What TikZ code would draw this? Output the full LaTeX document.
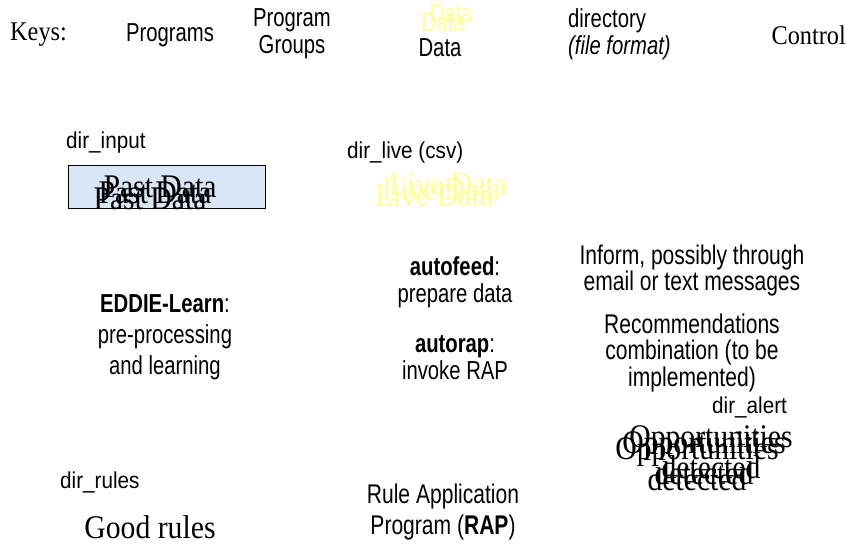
\documentclass[tikz,border=0pt]{standalone}
\usepackage{fontspec}
\setmainfont[FakeStretch=0.9]{Liberation Serif}
\setsansfont[FakeStretch=0.78]{Liberation Sans}
\newfontfamily\dirfont[FakeStretch=0.9]{Liberation Sans}
\definecolor{pale}{HTML}{FFFF99}
\definecolor{boxblue}{HTML}{D8E6F6}
\begin{document}
\begin{tikzpicture}[x=1pt,y=1pt,
  sanslbl/.style={font=\sffamily\fontsize{26}{27}\selectfont,align=center,inner sep=0pt},
  dirlbl/.style={font=\dirfont\fontsize{23}{22}\selectfont,anchor=west,inner sep=0pt},
  serlbl/.style={font=\rmfamily\fontsize{33}{25}\selectfont,align=center,inner sep=0pt},
  keylbl/.style={font=\rmfamily\fontsize{27}{26}\selectfont,inner sep=0pt},
  ghost/.style={serlbl,text=pale}]
\useasboundingbox (0,0) rectangle (847,-547);
% keys row
\node[keylbl,anchor=west] (keys) at (10,-35) {Keys:};
\node[sanslbl] (kprog) at (170,-35) {Programs};
\node[sanslbl] (kgroup) at (292,-34) {Program\\Groups};
\node[sanslbl,text=pale] (kdata1) at (451,-14) {Data};
\node[sanslbl,text=pale] (kdata2) at (443,-23) {Data};
\node[sanslbl] (kdata) at (440,-48) {Data};
\node[font=\sffamily\fontsize{26}{27}\selectfont,align=left,anchor=west,inner sep=0pt] (kdir) at (568,-34) {directory\\\textit{(file format)}};
\node[keylbl,anchor=east] (kctrl) at (846,-35) {Control};
% past data
\node[dirlbl] (dirin) at (66,-143) {dir\_input};
\draw[fill=boxblue,draw=black,line width=1pt] (68,-165) rectangle (265,-208);
\node[serlbl] (past1) at (160,-187) {Past Data};
\node[serlbl] (past2) at (155,-193) {Past Data};
\node[serlbl] (past3) at (150,-199) {Past Data};
% live data
\node[dirlbl] (dirlive) at (347,-153) {dir\_live (csv)};
\node[ghost] (live1) at (448,-185) {Live Data};
\node[ghost] (live2) at (441,-190) {Live Data};
\node[ghost] (live3) at (434,-196) {Live Data};
% programs
\node[sanslbl,font=\sffamily\fontsize{26}{31}\selectfont] (eddie) at (165,-337) {\textbf{EDDIE-Learn}:\\pre-processing\\and learning};
\node[sanslbl] (autofeed) at (455,-282) {\textbf{autofeed}:\\prepare data};
\node[sanslbl] (autorap) at (455,-358) {\textbf{autorap}:\\invoke RAP};
\node[sanslbl,font=\sffamily\fontsize{27}{26}\selectfont] (inform) at (692,-271) {Inform, possibly through\\email or text messages};
\node[sanslbl,font=\sffamily\fontsize{27}{26.5}\selectfont] (recom) at (692,-353) {Recommendations\\combination (to be\\implemented)};
\node[sanslbl,font=\sffamily\fontsize{27}{31}\selectfont] (rap) at (443,-512) {Rule Application\\Program (\textbf{RAP})};
% rules
\node[dirlbl] (dirrules) at (60,-482) {dir\_rules};
\node[serlbl] (good) at (150,-527) {Good rules};
% alert
\node[dirlbl] (diralert) at (712,-407) {dir\_alert};
\node[serlbl] (opp1) at (711,-452) {Opportunities\\detected};
\node[serlbl] (opp2) at (704,-458) {Opportunities\\detected};
\node[serlbl] (opp3) at (697,-464) {Opportunities\\detected};
\end{tikzpicture}
\end{document}
